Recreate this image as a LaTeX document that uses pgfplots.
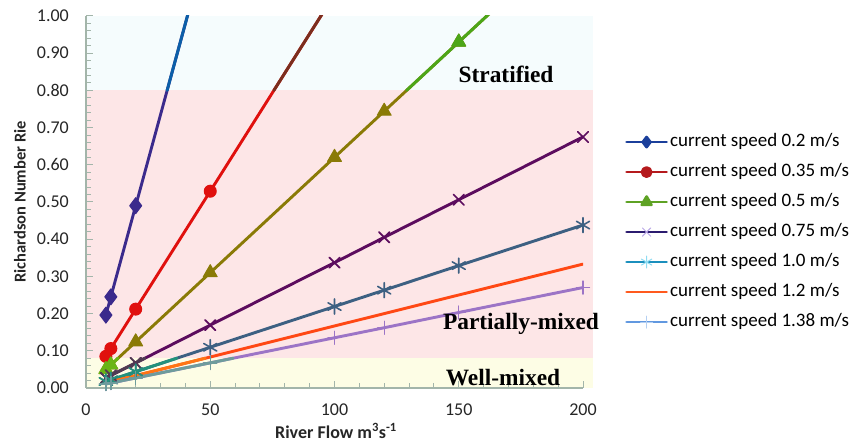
\documentclass[border=0pt]{standalone}
\usepackage{fontspec}
\setmainfont{Carlito}
\newfontfamily\serifb{Liberation Serif}
\usepackage{pgfplots}
\pgfplotsset{compat=1.18}
% band colours
\definecolor{bandC}{HTML}{F5FCFD}
\definecolor{bandP}{HTML}{FDE6E7}
\definecolor{bandY}{HTML}{FDFDE5}
\definecolor{axisc}{HTML}{A3B5AA}
% series colours as seen in the pink band (P), cyan band (C), yellow band (Y)
\definecolor{s1P}{HTML}{3B2A8C}\definecolor{s1C}{HTML}{0B5FA8}
\definecolor{s2P}{HTML}{E0100E}\definecolor{s2C}{HTML}{7A2E1E}
\definecolor{s3P}{HTML}{8A7A06}\definecolor{s3C}{HTML}{4CA618}\definecolor{s3Y}{HTML}{6AB516}
\definecolor{s4P}{HTML}{5C0C5E}\definecolor{s4Y}{HTML}{4F3D52}
\definecolor{s5P}{HTML}{3D6082}\definecolor{s5Y}{HTML}{22927C}
\definecolor{s6P}{HTML}{FF4814}\definecolor{s6Y}{HTML}{FF7514}
\definecolor{s7P}{HTML}{9C74C6}\definecolor{s7Y}{HTML}{6E9C9C}
% legend colours
\definecolor{l1}{HTML}{1B3F9B}
\definecolor{l2}{HTML}{B51A1D}
\definecolor{l3}{HTML}{5EA224}
\definecolor{l4}{HTML}{2B1B6F}\definecolor{l4m}{HTML}{B9A8E6}
\definecolor{l5}{HTML}{1B8FBD}\definecolor{l5m}{HTML}{8FDCF2}
\definecolor{l6}{HTML}{FF5A1E}
\definecolor{l7}{HTML}{6198E0}\definecolor{l7m}{HTML}{B5D0F2}
\begin{document}
\begin{tikzpicture}
\useasboundingbox (0,0) rectangle (859pt,446pt);
\fill[bandY] (86pt,58pt) rectangle (593pt,88pt);
\fill[bandP] (86pt,88pt) rectangle (593pt,355.6pt);
\fill[bandC] (86pt,355.6pt) rectangle (593pt,430pt);
\begin{axis}[
  at={(86pt,58pt)}, anchor=south west, scale only axis,
  width=497pt, height=372pt,
  xmin=0, xmax=200, ymin=0, ymax=1,
  axis x line*=bottom, axis y line*=left,
  axis line style={color=axisc, line width=1.2pt, -},
  xtick={0,50,100,150,200},
  ytick={0,0.1,0.2,0.3,0.4,0.5,0.6,0.7,0.8,0.9,1.0},
  minor x tick num=4, minor y tick num=4,
  tick align=inside, major tick length=7pt, minor tick length=4.5pt,
  tick style={color=axisc, line width=1pt},
  /pgf/number format/assume math mode=true,
  ticklabel style={font=\fontsize{18}{20}\selectfont, text=black!85},
  yticklabel style={/pgf/number format/fixed,/pgf/number format/fixed zerofill,
    /pgf/number format/precision=2, inner sep=0pt, anchor=east, xshift=-17pt},
  xticklabel style={inner sep=0pt, anchor=north, yshift=-16pt},
  legend image code/.code={\draw[mark repeat=2,mark phase=2,#1] plot coordinates {(0pt,0pt) (20pt,0pt) (40pt,0pt)};},
  legend cell align=left,
  legend style={at={(axis description cs:1.0845,0.6844)}, anchor=north west,
    draw=none, fill=none, inner sep=0pt, row sep=13pt, column sep=2pt,
    nodes={inner sep=0pt, text height=13pt, text depth=4pt},
    font=\fontsize{19}{21}\selectfont},
  every axis plot/.append style={line width=2.9pt, line join=round, line cap=round},
]
% ---- 0.2 m/s
\addplot[forget plot, s1P, mark=diamond*, mark size=8pt, mark options={solid, line width=1pt}]
  coordinates {(8,0.196) (10,0.245) (20,0.490) (50,1.225)};
\addplot[forget plot, s1C, no markers] coordinates {(32.65,0.800) (50,1.225)};
% ---- 0.35 m/s
\addplot[forget plot, s2P, mark=*, mark size=6pt, mark options={solid, line width=1pt}]
  coordinates {(8,0.085) (10,0.106) (20,0.212) (50,0.529) (100,1.058)};
\addplot[forget plot, s2C, no markers] coordinates {(75.6,0.800) (100,1.058)};
% ---- 0.5 m/s
\addplot[forget plot, s3P, mark=triangle*, mark size=8pt, mark options={solid, line width=1pt}]
  coordinates {(8,0.0496) (10,0.062) (20,0.124) (50,0.310) (100,0.620) (120,0.744) (150,0.930) (200,1.240)};
\addplot[forget plot, s3C, mark=triangle*, mark size=8pt, mark indices={2}, mark options={solid, line width=1pt}]
  coordinates {(129,0.800) (150,0.930) (200,1.240)};
\addplot[forget plot, s3Y, mark=triangle*, mark size=8pt, mark indices={1,2}, mark options={solid, line width=1pt}]
  coordinates {(8,0.0496) (10,0.062) (12.9,0.080)};
% ---- 0.75 m/s
\addplot[forget plot, s4P, mark=x, mark size=7.5pt, mark options={solid, line width=1.6pt}]
  coordinates {(8,0.027) (10,0.0337) (20,0.0675) (50,0.169) (100,0.337) (120,0.405) (150,0.506) (200,0.675)};
\addplot[forget plot, s4Y, mark=x, mark size=7.5pt, mark indices={1,2,3}, mark options={solid, line width=1.6pt}]
  coordinates {(8,0.027) (10,0.0337) (20,0.0675) (23.7,0.080)};
% ---- 1.0 m/s
\addplot[forget plot, s5P, mark=asterisk, mark size=7.5pt, mark options={solid, line width=1.6pt}]
  coordinates {(8,0.0175) (10,0.0219) (20,0.0438) (50,0.1095) (100,0.219) (120,0.263) (150,0.329) (200,0.438)};
\addplot[forget plot, s5Y, mark=asterisk, mark size=7.5pt, mark indices={1,2,3}, mark options={solid, line width=1.6pt}]
  coordinates {(8,0.0175) (10,0.0219) (20,0.0438) (36.5,0.080)};
% ---- 1.2 m/s
\addplot[forget plot, s6P, no markers]
  coordinates {(8,0.0133) (10,0.0167) (20,0.0333) (50,0.0833) (100,0.1667) (120,0.200) (150,0.250) (200,0.333)};
\addplot[forget plot, s6Y, no markers] coordinates {(8,0.0133) (10,0.0167) (20,0.0333) (48,0.080)};
% ---- 1.38 m/s
\addplot[forget plot, s7P, mark=+, mark size=6.5pt, mark options={solid, line width=1.4pt}]
  coordinates {(8,0.0108) (10,0.0135) (20,0.027) (50,0.0676) (100,0.135) (120,0.162) (150,0.203) (200,0.270)};
\addplot[forget plot, s7Y, mark=+, mark size=6.5pt, mark indices={1,2,3,4}, mark options={solid, line width=1.4pt}]
  coordinates {(8,0.0108) (10,0.0135) (20,0.027) (50,0.0676) (59.2,0.080)};
% ---- legend
\addlegendimage{l1, line width=2.8pt, mark=diamond*, mark size=5pt}
\addlegendentry{current speed 0.2 m/s}
\addlegendimage{l2, line width=2.8pt, mark=*, mark size=4.5pt}
\addlegendentry{current speed 0.35 m/s}
\addlegendimage{l3, line width=2.8pt, mark=triangle*, mark size=5.5pt}
\addlegendentry{current speed 0.5 m/s}
\addlegendimage{l4, line width=2.8pt, mark=x, mark size=6pt, mark options={l4m, line width=1pt}}
\addlegendentry{current speed 0.75 m/s}
\addlegendimage{l5, line width=2.8pt, mark=asterisk, mark size=6pt, mark options={l5m, line width=1pt}}
\addlegendentry{current speed 1.0 m/s}
\addlegendimage{l6, line width=2.8pt, no markers}
\addlegendentry{current speed 1.2 m/s}
\addlegendimage{l7, line width=2.8pt, mark=+, mark size=6pt, mark options={l7m, line width=1pt}}
\addlegendentry{current speed 1.38 m/s}
\end{axis}
\node[rotate=90, font=\bfseries\fontsize{16.5}{18}\selectfont, text=black!85] at (20pt,244pt) {Richardson Number Rie};
\node[font=\bfseries\fontsize{18}{20}\selectfont, text=black!85] at (336pt,15pt) {River Flow m\textsuperscript{3}s\textsuperscript{-1}};
\node[anchor=base, font=\serifb\bfseries\fontsize{23.4}{26}\selectfont] at (506pt,363pt) {Stratified};
\node[anchor=base, font=\serifb\bfseries\fontsize{23.4}{26}\selectfont] at (521pt,116pt) {Partially-mixed};
\node[anchor=base, font=\serifb\bfseries\fontsize{23.4}{26}\selectfont] at (503pt,60pt) {Well-mixed};
\end{tikzpicture}
\end{document}
